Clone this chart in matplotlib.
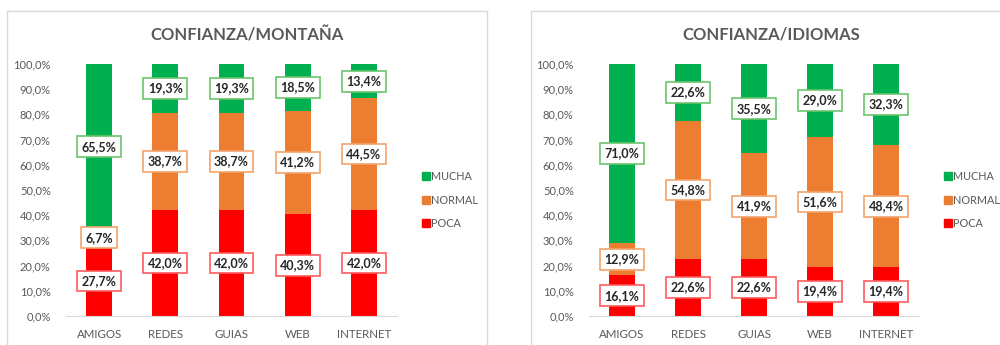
import matplotlib
matplotlib.use("Agg")
import matplotlib.pyplot as plt
from matplotlib.patches import Rectangle
from matplotlib.lines import Line2D

plt.rcParams['font.family'] = ['Lato', 'DejaVu Sans']

categorias = ["AMIGOS", "REDES", "GUIAS", "WEB", "INTERNET"]
series = ["POCA", "NORMAL", "MUCHA"]

# porcentajes por categoria (POCA, NORMAL, MUCHA)
montana_poca = [27.7, 42.0, 42.0, 40.3, 42.0]
montana_normal = [6.7, 38.7, 38.7, 41.2, 44.5]
montana_mucha = [65.5, 19.3, 19.3, 18.5, 13.4]

idiomas_poca = [16.1, 22.6, 22.6, 19.4, 19.4]
idiomas_normal = [12.9, 54.8, 41.9, 51.6, 48.4]
idiomas_mucha = [71.0, 22.6, 35.5, 29.0, 32.3]

colores = {"POCA": "#FF0000", "NORMAL": "#ED7D31", "MUCHA": "#00B050"}
bordes = {"POCA": "#FF5B5B", "NORMAL": "#F3A46B", "MUCHA": "#6CC36C"}
gris = "#595959"

W, H = 1000, 345
fig = plt.figure(figsize=(W / 100, H / 100), dpi=100)


def px(x0, y0, w, h):
    # caja en pixeles (origen arriba a la izquierda) -> fraccion de figura
    return [x0 / W, 1 - (y0 + h) / H, w / W, h / H]


def grafico(rect, titulo, titulo_x, leg_x, poca, normal, mucha):
    ax = fig.add_axes(rect)
    datos = {"POCA": poca, "NORMAL": normal, "MUCHA": mucha}
    x = list(range(len(categorias)))
    base = [0] * len(categorias)
    for s in series:
        vals = datos[s]
        bars = ax.bar(x, vals, 0.39, bottom=base, color=colores[s], zorder=2)
        etiquetas = [("%.1f%%" % v).replace(".", ",") for v in vals]
        ax.bar_label(bars, labels=etiquetas, label_type="center",
                     fontsize=9, fontweight="bold", color="#262626",
                     bbox=dict(boxstyle="square,pad=0.35", fc="white",
                               ec=bordes[s], lw=1.2), zorder=3)
        base = [b + v for b, v in zip(base, vals)]
    ax.set_xlim(-0.5, 4.5)
    ax.set_ylim(0, 100)
    ax.set_xticks(x)
    ax.set_xticklabels(categorias)
    ax.set_yticks(range(0, 101, 10))
    ax.set_yticklabels([("%.1f%%" % v).replace(".", ",") for v in range(0, 101, 10)])
    ax.tick_params(axis="x", length=0, pad=9, labelsize=8.3, labelcolor=gris)
    ax.tick_params(axis="y", length=0, pad=11, labelsize=8, labelcolor=gris)
    for lado in ["top", "right", "left"]:
        ax.spines[lado].set_visible(False)
    ax.spines["bottom"].set_color("#D9D9D9")
    fig.text(titulo_x / W, 1 - 35 / H, titulo, ha="center", va="center",
             fontsize=12, fontweight="bold", color=gris)
    handles = [Line2D([], [], marker="s", ls="", color=colores[s], markersize=5.5)
               for s in reversed(series)]
    fig.legend(handles, list(reversed(series)), loc="center left",
               bbox_to_anchor=(leg_x / W, 1 - 200 / H), frameon=False,
               fontsize=7.8, labelcolor=gris, handletextpad=0.15,
               handlelength=0.6, labelspacing=1.15, borderpad=0)
    return ax


# marcos de cada grafico
fig.patches.append(Rectangle((7 / W, -0.1), 480 / W, 1 - 11 / H + 0.1,
                             transform=fig.transFigure, fill=False,
                             ec="#D9D9D9", lw=1))
fig.patches.append(Rectangle((531 / W, -0.1), 480 / W, 1 - 11 / H + 0.1,
                             transform=fig.transFigure, fill=False,
                             ec="#D9D9D9", lw=1))

grafico(px(66, 64, 331, 252), "CONFIANZA/MONTAÑA", 247, 417,
        montana_poca, montana_normal, montana_mucha)
grafico(px(589, 64, 330, 252), "CONFIANZA/IDIOMAS", 771, 939,
        idiomas_poca, idiomas_normal, idiomas_mucha)

fig.savefig("out.png", dpi=100)
